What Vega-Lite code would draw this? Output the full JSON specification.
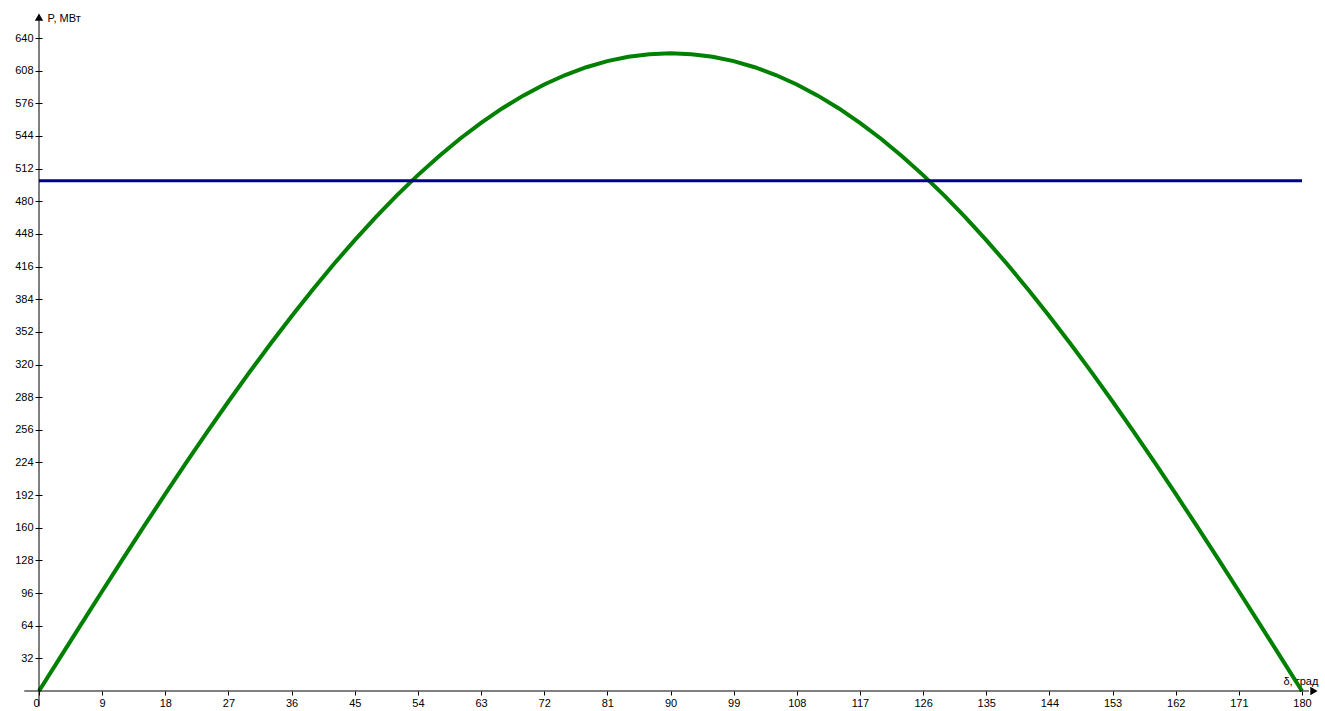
{
  "$schema": "https://vega.github.io/schema/vega-lite/v6.json",
  "width": 1263,
  "height": 653,
  "autosize": "none",
  "padding": {"left": 39, "top": 38, "right": 23, "bottom": 20},
  "background": "white",
  "config": {
    "view": {"stroke": null},
    "font": "Liberation Sans",
    "axis": {"labelOverlap": false, "labelFlush": false, "labelBound": false, "grid": false, "domain": false, "tickColor": "black", "labelColor": "black", "titleColor": "black", "labelFontSize": 11, "titleFontSize": 11, "titleFontWeight": "normal", "labelFont": "Liberation Sans", "titleFont": "Liberation Sans"}
  },
  "datasets": {
    "curve": [
      {"delta": 0, "P": 0}, {"delta": 3, "P": 32.71}, {"delta": 6, "P": 65.33}, {"delta": 9, "P": 97.77},
      {"delta": 12, "P": 129.94}, {"delta": 15, "P": 161.76}, {"delta": 18, "P": 193.14}, {"delta": 21, "P": 223.98},
      {"delta": 24, "P": 254.21}, {"delta": 27, "P": 283.74}, {"delta": 30, "P": 312.5}, {"delta": 33, "P": 340.4},
      {"delta": 36, "P": 367.37}, {"delta": 39, "P": 393.33}, {"delta": 42, "P": 418.21}, {"delta": 45, "P": 441.94},
      {"delta": 48, "P": 464.47}, {"delta": 51, "P": 485.72}, {"delta": 54, "P": 505.64}, {"delta": 57, "P": 524.17},
      {"delta": 60, "P": 541.27}, {"delta": 63, "P": 556.88}, {"delta": 66, "P": 570.97}, {"delta": 69, "P": 583.49},
      {"delta": 72, "P": 594.41}, {"delta": 75, "P": 603.7}, {"delta": 78, "P": 611.34}, {"delta": 81, "P": 617.31},
      {"delta": 84, "P": 621.58}, {"delta": 87, "P": 624.14}, {"delta": 90, "P": 625}, {"delta": 93, "P": 624.14},
      {"delta": 96, "P": 621.58}, {"delta": 99, "P": 617.31}, {"delta": 102, "P": 611.34}, {"delta": 105, "P": 603.7},
      {"delta": 108, "P": 594.41}, {"delta": 111, "P": 583.49}, {"delta": 114, "P": 570.97}, {"delta": 117, "P": 556.88},
      {"delta": 120, "P": 541.27}, {"delta": 123, "P": 524.17}, {"delta": 126, "P": 505.64}, {"delta": 129, "P": 485.72},
      {"delta": 132, "P": 464.47}, {"delta": 135, "P": 441.94}, {"delta": 138, "P": 418.21}, {"delta": 141, "P": 393.33},
      {"delta": 144, "P": 367.37}, {"delta": 147, "P": 340.4}, {"delta": 150, "P": 312.5}, {"delta": 153, "P": 283.74},
      {"delta": 156, "P": 254.21}, {"delta": 159, "P": 223.98}, {"delta": 162, "P": 193.14}, {"delta": 165, "P": 161.76},
      {"delta": 168, "P": 129.94}, {"delta": 171, "P": 97.77}, {"delta": 174, "P": 65.33}, {"delta": 177, "P": 32.71},
      {"delta": 180, "P": 0}
    ],
    "limit": [
      {"delta": 0, "P": 500}, {"delta": 180, "P": 500}
    ],
    "one": [{}]
  },
  "layer": [
    {
      "data": {"name": "curve"},
      "mark": {"type": "line", "color": "#008000", "strokeWidth": 4},
      "encoding": {
        "x": {"field": "delta", "type": "quantitative", "scale": {"domain": [0, 180], "nice": false, "zero": false}, "axis": {
          "orient": "bottom",
          "values": [0, 9, 18, 27, 36, 45, 54, 63, 72, 81, 90, 99, 108, 117, 126, 135, 144, 153, 162, 171, 180],
          "tickCount": 40,
          "domain": false, "grid": false,
          "tickSize": 4, "tickColor": "black", "tickWidth": 1,
          "labelPadding": 2,
          "labelAlign": {"condition": {"test": "datum.value == 0", "value": "right"}, "value": "center"},
          "labelOverlap": false,
          "title": "δ, град", "titleAngle": 0, "titleAlign": "left", "titleBaseline": "middle",
          "titleX": 1244, "titleY": -10
        }},
        "y": {"field": "P", "type": "quantitative", "scale": {"domain": [0, 640], "nice": false, "zero": false}, "axis": {
          "orient": "left", "offset": -3,
          "values": [32, 64, 96, 128, 160, 192, 224, 256, 288, 320, 352, 384, 416, 448, 480, 512, 544, 576, 608, 640],
          "tickCount": 40,
          "domain": false, "grid": false,
          "tickSize": 7, "tickColor": "black", "tickWidth": 1,
          "labelPadding": 2,
          "labelOverlap": false,
          "title": "P, МВт", "titleAngle": 0, "titleAlign": "left", "titleBaseline": "middle",
          "titleX": 5, "titleY": -20
        }}
      }
    },
    {
      "data": {"name": "limit"},
      "mark": {"type": "line", "color": "#00008B", "strokeWidth": 3},
      "encoding": {
        "x": {"field": "delta", "type": "quantitative"},
        "y": {"field": "P", "type": "quantitative"}
      }
    },
    {
      "data": {"name": "one"},
      "mark": {"type": "rule", "color": "black", "strokeWidth": 1},
      "encoding": {
        "x": {"datum": -2.1, "type": "quantitative"},
        "x2": {"datum": 181},
        "y": {"datum": 0, "type": "quantitative"}
      }
    },
    {
      "data": {"name": "one"},
      "mark": {"type": "rule", "color": "black", "strokeWidth": 1},
      "encoding": {
        "x": {"datum": 0, "type": "quantitative"},
        "y": {"datum": -15, "type": "quantitative"},
        "y2": {"datum": 661}
      }
    },
    {
      "data": {"name": "one"},
      "mark": {"type": "point", "shape": "triangle-up", "filled": true, "color": "black", "size": 70, "opacity": 1},
      "encoding": {
        "x": {"datum": 0, "type": "quantitative"},
        "y": {"datum": 660.5, "type": "quantitative"}
      }
    },
    {
      "data": {"name": "one"},
      "mark": {"type": "point", "shape": "triangle-right", "filled": true, "color": "black", "size": 70, "opacity": 1},
      "encoding": {
        "x": {"datum": 181.7, "type": "quantitative"},
        "y": {"datum": 0, "type": "quantitative"}
      }
    }
  ]
}
